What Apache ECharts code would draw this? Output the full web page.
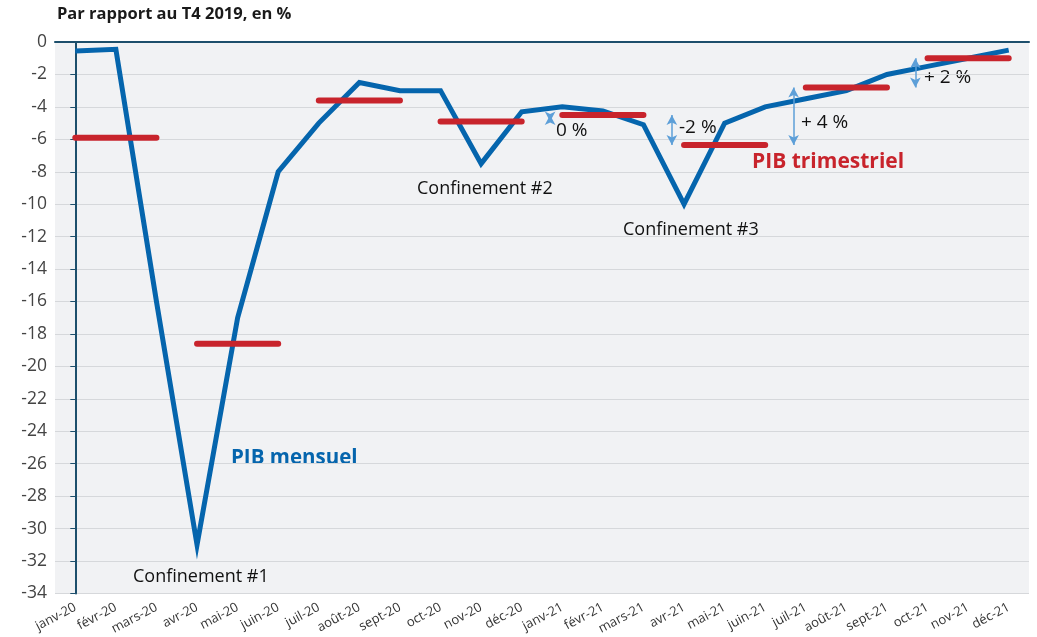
<!DOCTYPE html>
<html><head><meta charset="utf-8">
<script src="https://cdn.jsdelivr.net/npm/echarts@6/dist/echarts.min.js"></script>
<style>html,body{margin:0;padding:0;background:#fff}#c{width:1037px;height:637px}</style>
</head><body><div id="c"></div>
<script>
const months = ['janv-20','févr-20','mars-20','avr-20','mai-20','juin-20','juil-20','août-20','sept-20','oct-20','nov-20','déc-20',
  'janv-21','févr-21','mars-21','avr-21','mai-21','juin-21','juil-21','août-21','sept-21','oct-21','nov-21','déc-21'];
const pibMensuel = [-0.55,-0.45,-16,-31,-17,-8,-5,-2.5,-3,-3,-7.5,-4.3,-4.0,-4.25,-5.1,-10,-5,-4,-3.5,-3.0,-2.0,-1.5,-1.0,-0.5];
const pibTrimestriel = [-5.9,-18.6,-3.6,-4.9,-4.5,-6.35,-2.8,-1.0];
const yTicks = {min:-34, max:0, step:2};
const arrowQuarters = [3,4,5,6];              // arrow between quarter k and k+1
const arrowLabels = ['0 %','-2 %','+ 4 %','+ 2 %'];

// expand quarterly values into two alternating month-indexed series (so bars don't join)
const redA = months.map((m,i)=>{const q=Math.floor(i/3);return q%2===0?pibTrimestriel[q]:null;});
const redB = months.map((m,i)=>{const q=Math.floor(i/3);return q%2===1?pibTrimestriel[q]:null;});

const FONT = '"Open Sans", "Noto Sans", sans-serif';
const BLUE = '#0565ad', RED = '#c8242c', ARROW = '#5d9fd8';

const arrowLines = arrowQuarters.map(k=>[
  {coord:[3*k+2.7, pibTrimestriel[k]]},
  {coord:[3*k+2.7, pibTrimestriel[k+1]]}
]);

const chart = echarts.init(document.getElementById('c'));
const option = {
  animation:false,
  textStyle:{fontFamily:FONT},
  grid:{left:55,right:8,top:42,bottom:41,show:true,backgroundColor:'#f1f2f4',borderWidth:0},
  xAxis:[{
    type:'category',data:months,boundaryGap:true,
    axisLine:{show:true,lineStyle:{color:'#d9d9d9',width:1}},
    axisTick:{show:false},
    axisLabel:{rotate:28,color:'#333',fontSize:13,fontFamily:FONT,margin:13,interval:0}
  },{
    type:'value',min:-0.5,max:23.5,position:'top',
    axisLine:{show:true,onZero:false,lineStyle:{color:'#1d4f6c',width:2}},
    axisTick:{show:false},axisLabel:{show:false},splitLine:{show:false}
  }],
  yAxis:{
    type:'value',min:yTicks.min,max:yTicks.max,interval:yTicks.step,
    axisLine:{show:true,lineStyle:{color:'#1d4f6c',width:2}},
    axisTick:{show:true,length:5,lineStyle:{color:'#1d4f6c'}},
    axisLabel:{color:'#444',fontSize:17.5,fontFamily:FONT,margin:8},
    splitLine:{show:true,lineStyle:{color:'#d6d8db',width:1}}
  },
  series:[
    {type:'line',data:pibMensuel,symbol:'none',lineStyle:{color:BLUE,width:5,join:'miter'},z:3},
    {type:'line',data:redA,symbol:'none',connectNulls:false,lineStyle:{color:RED,width:6,cap:'round'},z:4},
    {type:'line',data:redB,symbol:'none',connectNulls:false,lineStyle:{color:RED,width:6,cap:'round'},z:4},
    {type:'line',xAxisIndex:1,data:[],symbol:'none',
      markLine:{silent:true,symbol:['arrow','arrow'],symbolSize:[8,10],
        lineStyle:{color:ARROW,width:1.5,type:'solid'},label:{show:false},data:arrowLines},z:5}
  ],
  graphic:[
    {type:'text',left:57,top:6,style:{text:'Par rapport au T4 2019, en %',font:'bold 16.5px '+FONT,fill:'#1a1a1a'}},
    {type:'text',left:133,top:568,style:{text:'Confinement #1',font:'18px '+FONT,fill:'#111'}},
    {type:'text',left:417,top:180,style:{text:'Confinement #2',font:'18px '+FONT,fill:'#111'}},
    {type:'text',left:623,top:221,style:{text:'Confinement #3',font:'18px '+FONT,fill:'#111'}},
    {type:'text',left:231,top:448,style:{text:'PIB mensuel',font:'bold 20.5px '+FONT,fill:BLUE}},
    {type:'text',left:752,top:152,style:{text:'PIB trimestriel',font:'bold 21px '+FONT,fill:RED}},
    {type:'text',left:556,top:121,style:{text:arrowLabels[0],font:'19px '+FONT,fill:'#111'}},
    {type:'text',left:679,top:118,style:{text:arrowLabels[1],font:'19px '+FONT,fill:'#111'}},
    {type:'text',left:801,top:113,style:{text:arrowLabels[2],font:'19px '+FONT,fill:'#111'}},
    {type:'text',left:924,top:68,style:{text:arrowLabels[3],font:'19px '+FONT,fill:'#111'}}
  ]
};
chart.setOption(option);
</script></body></html>
